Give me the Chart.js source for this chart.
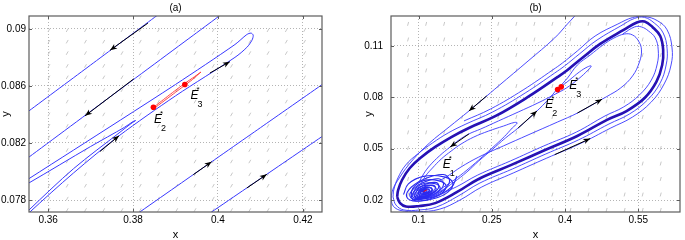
<!DOCTYPE html>
<html><head><meta charset="utf-8">
<script src="https://cdn.jsdelivr.net/npm/chart.js@4.4.1/dist/chart.umd.min.js"></script>
<style>
html,body{margin:0;padding:0;background:#fff;}
#wrap{position:relative;width:685px;height:240px;overflow:hidden;}
canvas{position:absolute;top:0;}
</style></head><body>
<div id="wrap">
<canvas id="ca" width="340" height="240" style="left:0;width:340px;height:240px"></canvas>
<canvas id="cb" width="345" height="240" style="left:340px;width:345px;height:240px"></canvas>
</div>
<script>
// ---------- Panel (a) ----------
const A_XTICKS = [0.36, 0.38, 0.40, 0.42];
const A_XTICK_LABELS = ['0.36', '0.38', '0.4', '0.42'];
const A_YTICKS = [0.078, 0.082, 0.086, 0.09];
const A_YTICK_LABELS = ['0.078', '0.082', '0.086', '0.09'];

const A_L1_X = [0.350, 0.3555, 0.370, 0.385, 0.392];
const A_L1_Y = [0.08303, 0.08425, 0.08746, 0.09079, 0.09234];
const A_L2_X = [0.350, 0.3555, 0.375, 0.395, 0.405];
const A_L2_Y = [0.07980, 0.08101, 0.08532, 0.08973, 0.09194];
const A_L3_X = [0.378, 0.395, 0.410, 0.425, 0.430];
const A_L3_Y = [0.07641, 0.07995, 0.08307, 0.08619, 0.08723];
const A_L4_X = [0.395, 0.410, 0.425, 0.430];
const A_L4_Y = [0.07645, 0.07950, 0.08255, 0.08357];
const A_LONG_X = [0.354, 0.3555, 0.366, 0.3767, 0.390, 0.404, 0.4068, 0.4080, 0.4083, 0.4078, 0.4068, 0.4040, 0.390, 0.377, 0.366, 0.3555, 0.354];
const A_LONG_Y = [0.0766, 0.0771, 0.0799, 0.0825, 0.0853, 0.0880, 0.0887, 0.0892, 0.08955, 0.0897, 0.0896, 0.0889, 0.0861, 0.0836, 0.0815, 0.0795, 0.0792];
const A_SMALL_X = [0.354, 0.3555, 0.366, 0.3767, 0.3795, 0.3806, 0.3800, 0.378, 0.370, 0.3555, 0.354];
const A_SMALL_Y = [0.0768, 0.0773, 0.0802, 0.0827, 0.08335, 0.08357, 0.0835, 0.0831, 0.08175, 0.0792, 0.0790];
const A_RED_X = [0.3848, 0.3885, 0.3922, 0.3945, 0.3960, 0.3957, 0.3940, 0.3900, 0.3850];
const A_RED_Y = [0.08449, 0.08535, 0.08618, 0.08665, 0.08697, 0.08690, 0.08645, 0.08555, 0.08443];
const A_EQ_X = [0.3848, 0.3922];
const A_EQ_Y = [0.0845, 0.0861];
const A_ARROW_X0 = [0.3835, 0.3802, 0.3981, 0.3722, 0.3942, 0.4068];
const A_ARROW_Y0 = [0.0904, 0.0865, 0.0869, 0.0814, 0.07978, 0.07884];
const A_ARROW_X1 = [0.3746, 0.3687, 0.4028, 0.3767, 0.3985, 0.4115];
const A_ARROW_Y1 = [0.0885, 0.0839, 0.0877, 0.0825, 0.08068, 0.0798];
const A_FIELD_X = [0.3602, 0.3645, 0.3688, 0.3731, 0.3774, 0.3817, 0.3860, 0.3903, 0.3946, 0.3989, 0.4032, 0.4075, 0.4118, 0.4161, 0.4204];
const A_FIELD_Y = [0.0899, 0.0891, 0.0883, 0.0874, 0.0866, 0.0857, 0.0849, 0.0840, 0.0832, 0.0824, 0.0815, 0.0807, 0.0798, 0.0790, 0.0781, 0.0773];
const A_LABEL_X = [0.38494, 0.39353];
const A_LABEL_Y = [0.08338, 0.0851];
const A_LABEL_SUB = ['2', '3'];

// ---------- Panel (b) ----------
const B_XTICKS = [0.1, 0.25, 0.4, 0.55];
const B_XTICK_LABELS = ['0.1', '0.25', '0.4', '0.55'];
const B_YTICKS = [0.02, 0.05, 0.08, 0.11];
const B_YTICK_LABELS = ['0.02', '0.05', '0.08', '0.11'];

const B_MAIN_X = [0.056, 0.062, 0.074, 0.102, 0.134, 0.179, 0.223, 0.290, 0.359, 0.425, 0.486, 0.526, 0.563, 0.587, 0.599, 0.601, 0.595, 0.579, 0.563, 0.547, 0.520, 0.472, 0.435, 0.405, 0.385, 0.324, 0.258, 0.203, 0.167, 0.134, 0.106, 0.082, 0.066, 0.058, 0.056];
const B_MAIN_Y = [0.0218, 0.0182, 0.0162, 0.0165, 0.0182, 0.0247, 0.0323, 0.0405, 0.0492, 0.0574, 0.0668, 0.0720, 0.0796, 0.0890, 0.0989, 0.1077, 0.1158, 0.1211, 0.1243, 0.1237, 0.1194, 0.1112, 0.1030, 0.0960, 0.0919, 0.0802, 0.0691, 0.0621, 0.0568, 0.0510, 0.0451, 0.0387, 0.0317, 0.0258, 0.0218];
const B_OUT_X = [0.0475, 0.0535, 0.0697, 0.1020, 0.1364, 0.1808, 0.2253, 0.2919, 0.3606, 0.4273, 0.4899, 0.5323, 0.5687, 0.5949, 0.6071, 0.6091, 0.6010, 0.5828, 0.5626, 0.5424, 0.5141, 0.4657, 0.4293, 0.3990, 0.3788, 0.3182, 0.2515, 0.1970, 0.1606, 0.1283, 0.0980, 0.0737, 0.0576, 0.0495, 0.0475];
const B_OUT_Y = [0.0218, 0.0171, 0.0142, 0.0142, 0.0159, 0.0223, 0.0299, 0.0381, 0.0469, 0.0551, 0.0644, 0.0703, 0.0784, 0.0884, 0.0989, 0.1083, 0.1176, 0.1234, 0.1267, 0.1261, 0.1217, 0.1135, 0.1053, 0.0983, 0.0942, 0.0825, 0.0714, 0.0644, 0.0592, 0.0533, 0.0469, 0.0405, 0.0329, 0.0264, 0.0218];
const B_TOP_X = [0.4313, 0.4051, 0.3788, 0.3242, 0.2636, 0.2030, 0.1626, 0.1222, 0.0879, 0.0616, 0.0455, 0.0455, 0.0616, 0.0980, 0.1424, 0.1848, 0.2293, 0.2939, 0.3626, 0.4293, 0.4939, 0.5384, 0.5768, 0.6030, 0.6172, 0.6192, 0.6091, 0.5889, 0.5626, 0.5384, 0.5081, 0.4616, 0.4253, 0.3949, 0.3747, 0.3141, 0.2475, 0.1929];
const B_TOP_Y = [0.1310, 0.1229, 0.1147, 0.1012, 0.0866, 0.0720, 0.0627, 0.0533, 0.0434, 0.0334, 0.0247, 0.0177, 0.0140, 0.0132, 0.0146, 0.0200, 0.0276, 0.0358, 0.0445, 0.0527, 0.0621, 0.0685, 0.0773, 0.0878, 0.0989, 0.1088, 0.1194, 0.1248, 0.1272, 0.1266, 0.1228, 0.1158, 0.1071, 0.1001, 0.0960, 0.0843, 0.0732, 0.0662];
const B_IN1_X = [0.1263, 0.1768, 0.2212, 0.2879, 0.3566, 0.4232, 0.4818, 0.5202, 0.5525, 0.5768, 0.5889, 0.5909, 0.5848, 0.5707, 0.5566, 0.5424, 0.5182];
const B_IN1_Y = [0.0212, 0.0276, 0.0346, 0.0428, 0.0516, 0.0597, 0.0691, 0.0744, 0.0814, 0.0901, 0.0995, 0.1077, 0.1147, 0.1188, 0.1211, 0.1211, 0.1170];
const B_IN2_X = [0.3869, 0.4051, 0.4253, 0.4515, 0.4778, 0.5000, 0.5222, 0.5384, 0.5505, 0.5566, 0.5525, 0.5384, 0.5141, 0.4859, 0.4758, 0.4253, 0.3848, 0.3242, 0.2737, 0.2232, 0.1869, 0.1626, 0.1424];
const B_IN2_Y = [0.0855, 0.0913, 0.0989, 0.1047, 0.1106, 0.1146, 0.1170, 0.1164, 0.1129, 0.1077, 0.1007, 0.0925, 0.0855, 0.0805, 0.0789, 0.0708, 0.0656, 0.0580, 0.0516, 0.0451, 0.0393, 0.0346, 0.0311];
const B_IN3_X = [0.3909, 0.4091, 0.4293, 0.4455, 0.4535, 0.4475, 0.4273, 0.4030, 0.3768, 0.3444, 0.3040, 0.2636, 0.2273, 0.2030, 0.1828, 0.1646, 0.1424, 0.1222, 0.1101, 0.1020];
const B_IN3_Y = [0.0860, 0.0901, 0.0948, 0.0977, 0.0983, 0.0960, 0.0907, 0.0855, 0.0814, 0.0767, 0.0714, 0.0662, 0.0615, 0.0586, 0.0551, 0.0510, 0.0457, 0.0399, 0.0352, 0.0311];
const B_STAB_X = [0.1222, 0.1424, 0.1727, 0.1990, 0.2232, 0.2495, 0.2778, 0.3040, 0.3424, 0.3646, 0.3788, 0.3828];
const B_STAB_Y = [0.0218, 0.0247, 0.0305, 0.0364, 0.0428, 0.0492, 0.0562, 0.0621, 0.0720, 0.0784, 0.0831, 0.0846];
const B_TURN_X = [0.1182, 0.1424, 0.1727, 0.1990, 0.2232, 0.2495, 0.2758, 0.2919, 0.3020, 0.2960, 0.2737, 0.2434, 0.2131, 0.1869, 0.1667, 0.1465, 0.1283, 0.1141, 0.1061];
const B_TURN_Y = [0.0206, 0.0258, 0.0317, 0.0375, 0.0434, 0.0501, 0.0571, 0.0621, 0.0650, 0.0653, 0.0632, 0.0603, 0.0568, 0.0527, 0.0486, 0.0440, 0.0387, 0.0340, 0.0299];
const B_SPIRAL_X = [0.1785, 0.1677, 0.1325, 0.0945, 0.0755, 0.0853, 0.1167, 0.1506,
  0.1633, 0.1547, 0.1268, 0.0969, 0.0822, 0.0899, 0.1144, 0.1407,
  0.1509, 0.1441, 0.1224, 0.0989, 0.0872, 0.0934, 0.1127, 0.1333,
  0.1414, 0.1361, 0.1192, 0.1010, 0.0920, 0.0967, 0.1117, 0.1276,
  0.1343, 0.1301, 0.1171, 0.1034, 0.0969, 0.1006, 0.1116, 0.1230,
  0.1273, 0.1243, 0.1152, 0.1057, 0.1011, 0.1037, 0.1113, 0.1192,
  0.1218, 0.1196, 0.1135, 0.1073, 0.1046, 0.1064, 0.1111, 0.1155,
  0.1173, 0.1159, 0.1128, 0.1099, 0.1087, 0.1096, 0.1117, 0.1134, 0.1121];
const B_SPIRAL_Y = [0.0340, 0.0277, 0.0216, 0.0193, 0.0219, 0.0276, 0.0329, 0.0349,
  0.0317, 0.0267, 0.0220, 0.0202, 0.0223, 0.0267, 0.0308, 0.0324,
  0.0297, 0.0258, 0.0221, 0.0207, 0.0223, 0.0258, 0.0291, 0.0303,
  0.0284, 0.0253, 0.0224, 0.0214, 0.0226, 0.0253, 0.0278, 0.0287,
  0.0274, 0.0250, 0.0228, 0.0220, 0.0230, 0.0250, 0.0268, 0.0275,
  0.0266, 0.0249, 0.0234, 0.0228, 0.0235, 0.0249, 0.0262, 0.0266,
  0.0260, 0.0249, 0.0239, 0.0236, 0.0240, 0.0249, 0.0256, 0.0259,
  0.0255, 0.0249, 0.0244, 0.0243, 0.0245, 0.0249, 0.0252, 0.0253, 0.0249];
// second trajectory winding into E1 (between the turns of the first)
const B_SPIRAL2_X = [0.0690, 0.0790, 0.1100, 0.1520, 0.1700, 0.1600, 0.1300, 0.0930,
  0.0850, 0.0920, 0.1140, 0.1420, 0.1560, 0.1490, 0.1250, 0.0980,
  0.0900, 0.0955, 0.1130, 0.1340, 0.1440, 0.1390, 0.1205, 0.1000,
  0.0945, 0.0990, 0.1120, 0.1290, 0.1360, 0.1320, 0.1180, 0.1030,
  0.0995, 0.1025, 0.1118, 0.1225, 0.1290, 0.1260, 0.1160, 0.1060,
  0.1035, 0.1055, 0.1118, 0.1185, 0.1230, 0.1210, 0.1145, 0.1085, 0.1121];
const B_SPIRAL2_Y = [0.0232, 0.0294, 0.0338, 0.0335, 0.0300, 0.0246, 0.0207, 0.0196,
  0.0230, 0.0282, 0.0316, 0.0312, 0.0285, 0.0244, 0.0214, 0.0208,
  0.0233, 0.0272, 0.0298, 0.0295, 0.0273, 0.0246, 0.0222, 0.0216,
  0.0235, 0.0265, 0.0285, 0.0283, 0.0266, 0.0247, 0.0228, 0.0224,
  0.0238, 0.0259, 0.0273, 0.0272, 0.0261, 0.0248, 0.0234, 0.0231,
  0.0241, 0.0255, 0.0264, 0.0263, 0.0256, 0.0248, 0.0239, 0.0237, 0.0249];
const B_E1RED_X = [0.1101, 0.1168];
const B_E1RED_Y = [0.0249, 0.0259];
const B_EQ_X = [0.3848, 0.3922];
const B_EQ_Y = [0.0845, 0.0861];
const B_ARROW_X0 = [0.2394, 0.2030, 0.3040, 0.4253, 0.3788];
const B_ARROW_Y0 = [0.0808, 0.0586, 0.0621, 0.0708, 0.0465];
const B_ARROW_X1 = [0.2030, 0.1646, 0.3424, 0.4758, 0.4515];
const B_ARROW_Y1 = [0.0720, 0.0510, 0.0720, 0.0789, 0.0559];
const B_FIELD_X = [0.0784, 0.1154, 0.1523, 0.1893, 0.2263, 0.2632, 0.3002, 0.3372, 0.3741, 0.4111, 0.4481, 0.4851, 0.5220, 0.5590, 0.5960];
const B_FIELD_Y = [0.1229, 0.1138, 0.1047, 0.0957, 0.0866, 0.0776, 0.0685, 0.0595, 0.0504, 0.0413, 0.0323, 0.0232, 0.0142];
const B_LABEL_X = [0.1495, 0.3592, 0.4085];
const B_LABEL_Y = [0.0387, 0.0735, 0.0846];
const B_LABEL_SUB = ['1', '2', '3'];

// ---------- helpers ----------
const FONT = '"Liberation Sans", Arial, Helvetica, sans-serif';
const pts = (xs, ys) => xs.map((x, i) => ({x: x, y: ys[i]}));
const field = (xs, ys) => { const o = []; ys.forEach(y => xs.forEach(x => o.push({x: x, y: y}))); return o; };
const curve = (xs, ys, color, width, order, tension) => ({
  data: pts(xs, ys), showLine: true, borderColor: color, borderWidth: width,
  pointRadius: 0, pointHoverRadius: 0, tension: tension === undefined ? 0.4 : tension, order: order, fill: false
});
const arrows = (x0, y0, x1, y1) => x0.map((_, i) => ({
  data: [{x: x0[i], y: y0[i]}, {x: x1[i], y: y1[i]}], showLine: true, borderColor: '#000', borderWidth: 1,
  pointRadius: 0, pointHoverRadius: 0, arrowHead: true, order: 1
}));
const dots = (xs, ys) => ({data: pts(xs, ys), showLine: false, pointRadius: 2.8, pointBackgroundColor: '#f00',
  pointBorderColor: '#f00', pointBorderWidth: 0, order: 0});
const quiver = (xs, ys, rot) => ({data: field(xs, ys), showLine: false, pointStyle: 'line', pointRadius: 2,
  pointBorderColor: '#c8c8c8', pointBorderWidth: 1, pointRotation: rot, order: 100});

const decor = {
  id: 'decor',
  afterDatasetsDraw(chart, args, opts) {
    const ctx = chart.ctx, a = chart.chartArea;
    const sx = chart.scales.x, sy = chart.scales.y;
    chart.data.datasets.forEach((ds, i) => {
      if (!ds.arrowHead) return;
      const p = chart.getDatasetMeta(i).data;
      const p1 = p[p.length - 2], p2 = p[p.length - 1];
      let dx = p2.x - p1.x, dy = p2.y - p1.y;
      const L = Math.hypot(dx, dy); dx /= L; dy /= L;
      const nx = -dy, ny = dx, len = 7, w = 2.8, notch = 2;
      ctx.save(); ctx.fillStyle = '#000'; ctx.beginPath();
      ctx.moveTo(p2.x, p2.y);
      ctx.lineTo(p2.x - dx * len + nx * w, p2.y - dy * len + ny * w);
      ctx.lineTo(p2.x - dx * (len - notch), p2.y - dy * (len - notch));
      ctx.lineTo(p2.x - dx * len - nx * w, p2.y - dy * len - ny * w);
      ctx.closePath(); ctx.fill(); ctx.restore();
    });
    ctx.save();
    ctx.strokeStyle = '#5c5c5c'; ctx.lineWidth = 1.2;
    ctx.strokeRect(a.left, a.top, a.right - a.left, a.bottom - a.top);
    ctx.lineWidth = 1; ctx.beginPath();
    sx.ticks.forEach(t => { const x = Math.round(sx.getPixelForValue(t.value)) + 0.5;
      ctx.moveTo(x, a.bottom); ctx.lineTo(x, a.bottom - 3); ctx.moveTo(x, a.top); ctx.lineTo(x, a.top + 3); });
    sy.ticks.forEach(t => { const y = Math.round(sy.getPixelForValue(t.value)) + 0.5;
      ctx.moveTo(a.left, y); ctx.lineTo(a.left + 3, y); ctx.moveTo(a.right, y); ctx.lineTo(a.right - 3, y); });
    ctx.stroke();
    ctx.fillStyle = '#000'; ctx.textBaseline = 'alphabetic'; ctx.textAlign = 'left';
    (opts.lx || []).forEach((lx, i) => {
      const px = sx.getPixelForValue(lx), py = sy.getPixelForValue(opts.ly[i]);
      ctx.font = 'italic 12px ' + FONT; ctx.fillText('E', px, py);
      ctx.font = '8px ' + FONT; ctx.fillText('*', px + 6, py - 7);
      ctx.font = '9px ' + FONT; ctx.fillText(opts.sub[i], px + 7, py + 8);
    });
    ctx.restore();
  }
};

function makeChart(id, datasets, cfg) {
  return new Chart(document.getElementById(id), {
    type: 'scatter',
    data: {datasets: datasets},
    plugins: [decor],
    options: {
      responsive: false, animation: false, devicePixelRatio: 1,
      layout: {padding: {left: 0, right: cfg.padRight, top: 0, bottom: 0}},
      plugins: {
        legend: {display: false}, tooltip: {enabled: false},
        title: {display: true, text: cfg.title, fullSize: false, color: '#000',
          font: {family: FONT, size: 10, weight: 'normal', lineHeight: 1.2}, padding: {top: 2, bottom: 2}},
        decor: {lx: cfg.lx, ly: cfg.ly, sub: cfg.sub}
      },
      scales: {
        x: {
          type: 'linear', min: cfg.xmin, max: cfg.xmax,
          afterBuildTicks: s => { s.ticks = cfg.xt.map(v => ({value: v})); },
          afterFit: s => { s.height = 28; },
          ticks: {autoSkip: false, maxRotation: 0, padding: 2, color: '#000', font: {family: FONT, size: 10},
            callback: (v, i) => cfg.xl[i]},
          grid: {color: '#b4b4b4', lineWidth: 1, drawTicks: false},
          border: {display: false, dash: [1, 2]},
          title: {display: true, text: 'x', color: '#000', font: {family: FONT, size: 11, lineHeight: 1},
            padding: {top: 0, bottom: 0}}
        },
        y: {
          type: 'linear', min: cfg.ymin, max: cfg.ymax,
          afterBuildTicks: s => { s.ticks = cfg.yt.map(v => ({value: v})); },
          afterFit: s => { s.width = cfg.yw; },
          ticks: {autoSkip: false, padding: cfg.ypad, color: '#000', font: {family: FONT, size: 10},
            callback: (v, i) => cfg.yl[i]},
          grid: {color: '#b4b4b4', lineWidth: 1, drawTicks: false},
          border: {display: false, dash: [1, 2]},
          title: {display: true, text: 'y', color: '#000', font: {family: FONT, size: 11, lineHeight: 1},
            padding: {top: cfg.ytitlePad, bottom: 0}}
        }
      }
    }
  });
}

const BLUE = '#3838ff';
const dsA = [
  quiver(A_FIELD_X, A_FIELD_Y, -60),
  curve(A_L1_X, A_L1_Y, BLUE, 1, 10, 0.2),
  curve(A_L2_X, A_L2_Y, BLUE, 1, 10, 0.2),
  curve(A_L3_X, A_L3_Y, BLUE, 1, 10, 0.2),
  curve(A_L4_X, A_L4_Y, BLUE, 1, 10, 0.2),
  curve(A_LONG_X, A_LONG_Y, BLUE, 1, 10, 0.3),
  curve(A_SMALL_X, A_SMALL_Y, BLUE, 1, 10, 0.3),
  curve(A_RED_X, A_RED_Y, '#ff3030', 0.9, 5, 0.2),
  ...arrows(A_ARROW_X0, A_ARROW_Y0, A_ARROW_X1, A_ARROW_Y1),
  dots(A_EQ_X, A_EQ_Y)
];
makeChart('ca', dsA, {
  title: '(a)', padRight: 18, xmin: 0.3555, xmax: 0.4245, ymin: 0.07716, ymax: 0.0909,
  xt: A_XTICKS, xl: A_XTICK_LABELS, yt: A_YTICKS, yl: A_YTICK_LABELS, yw: 29, ypad: 3, ytitlePad: 0,
  lx: A_LABEL_X, ly: A_LABEL_Y, sub: A_LABEL_SUB
});

const dsB = [
  quiver(B_FIELD_X, B_FIELD_Y, -75),
  curve(B_SPIRAL_X, B_SPIRAL_Y, '#2a2af0', 1.1, 12, 0.4),
  curve(B_SPIRAL2_X, B_SPIRAL2_Y, '#2a2af0', 1.1, 12, 0.4),
  curve(B_TOP_X, B_TOP_Y, BLUE, 0.9, 11, 0.4),
  curve(B_OUT_X, B_OUT_Y, BLUE, 0.9, 11, 0.4),
  curve(B_IN1_X, B_IN1_Y, BLUE, 0.9, 11, 0.4),
  curve(B_IN2_X, B_IN2_Y, BLUE, 0.9, 11, 0.4),
  curve(B_IN3_X, B_IN3_Y, BLUE, 0.9, 11, 0.4),
  curve(B_STAB_X, B_STAB_Y, BLUE, 0.9, 11, 0.4),
  curve(B_TURN_X, B_TURN_Y, BLUE, 0.9, 11, 0.4),
  curve(B_MAIN_X, B_MAIN_Y, '#1212c4', 2.6, 8, 0.4),
  curve(B_MAIN_X, B_MAIN_Y, 'rgba(255,0,0,0.3)', 0.7, 7, 0.4),
  curve(B_E1RED_X, B_E1RED_Y, '#ff0000', 1, 6, 0),
  ...arrows(B_ARROW_X0, B_ARROW_Y0, B_ARROW_X1, B_ARROW_Y1),
  dots(B_EQ_X, B_EQ_Y)
];
makeChart('cb', dsB, {
  title: '(b)', padRight: 1, xmin: 0.0434, xmax: 0.6355, ymin: 0.013, ymax: 0.1275,
  xt: B_XTICKS, xl: B_XTICK_LABELS, yt: B_YTICKS, yl: B_YTICK_LABELS, yw: 51, ypad: 8, ytitlePad: 23,
  lx: B_LABEL_X, ly: B_LABEL_Y, sub: B_LABEL_SUB
});
</script>
</body></html>
